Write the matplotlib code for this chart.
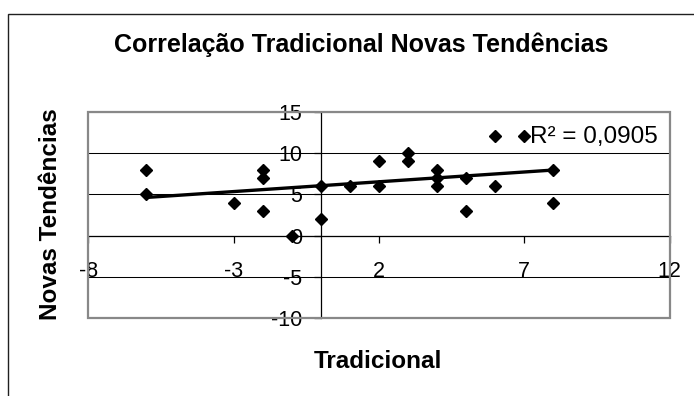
import numpy as np
import matplotlib
matplotlib.use("Agg")
import matplotlib.pyplot as plt
from matplotlib.patches import Rectangle

plt.rcParams['font.family'] = ['Liberation Sans', 'DejaVu Sans']
plt.rcParams['axes.unicode_minus'] = False

# scores per respondent
tradicional = [-6, -6, -3, -2, -2, -2, -1, 0, 0, 1, 2, 2, 3, 3, 4, 4, 4, 5, 5, 6, 6, 7, 8, 8]
novas_tendencias = [8, 5, 4, 8, 7, 3, 0, 6, 2, 6, 9, 6, 10, 9, 8, 7, 6, 7, 3, 12, 6, 12, 8, 4]

x_ticks = [-8, -3, 2, 7, 12]
y_ticks = [-10, -5, 0, 5, 10, 15]
r2_label = "R² = 0,0905"

W, H = 694, 396
fig = plt.figure(figsize=(W / 100, H / 100), dpi=100)
ax = fig.add_axes([88.3 / W, 1 - 318.3 / H, 581.4 / W, 206.6 / H])

# outer chart frame (runs off the right and bottom edges)
fig.patches.append(Rectangle((8 / W, -0.1), 1.2, 1.1 - 14 / H, transform=fig.transFigure,
                             fill=False, edgecolor='#202020', lw=1.0))

ax.set_xlim(-8, 12)
ax.set_ylim(-10, 15)
ax.set_xticks(x_ticks)
ax.set_yticks(y_ticks)

ax.grid(axis='y', color='black', lw=0.75, zorder=1)
ax.grid(axis='x', visible=False)
ax.set_axisbelow(True)

# axes cross at zero
for side in ('left', 'bottom'):
    ax.spines[side].set_position(('data', 0))
    ax.spines[side].set_color('black')
    ax.spines[side].set_linewidth(0.9)
    ax.spines[side].set_zorder(2)
for side in ('top', 'right'):
    ax.spines[side].set_visible(False)

ax.add_patch(Rectangle((0, 0), 1, 1, transform=ax.transAxes, fill=False,
                       edgecolor='#888888', lw=1.6, zorder=2.5, clip_on=False))

ax.tick_params(axis='x', direction='out', length=5, width=0.9, pad=13.5, labelsize=15.5)
ax.tick_params(axis='y', direction='out', length=5, width=0.9, pad=8.4, labelsize=15.5)

ax.plot(tradicional, novas_tendencias, linestyle='none', marker='D', markersize=6,
        color='black', zorder=3, clip_on=False)

# linear trend line over the data range
slope, intercept = np.polyfit(tradicional, novas_tendencias, 1)
xs = np.array([min(tradicional), max(tradicional)])
ax.plot(xs, slope * xs + intercept, color='black', lw=2.4, zorder=3)

ax.text(0.760, 0.850, r2_label, transform=ax.transAxes, ha='left', va='baseline',
        fontsize=17.5, zorder=4)

fig.text(361 / W, 1 - 52 / H, "Correlação Tradicional Novas Tendências",
         ha='center', va='baseline', fontsize=18, fontweight='bold')
fig.text(377.5 / W, 1 - 368.3 / H, "Tradicional",
         ha='center', va='baseline', fontsize=17.5, fontweight='bold')
fig.text(57 / W, 1 - 214 / H, "Novas Tendências", rotation=90, rotation_mode='anchor',
         ha='center', va='baseline', fontsize=17.5, fontweight='bold')

fig.savefig("out.png", dpi=100)
